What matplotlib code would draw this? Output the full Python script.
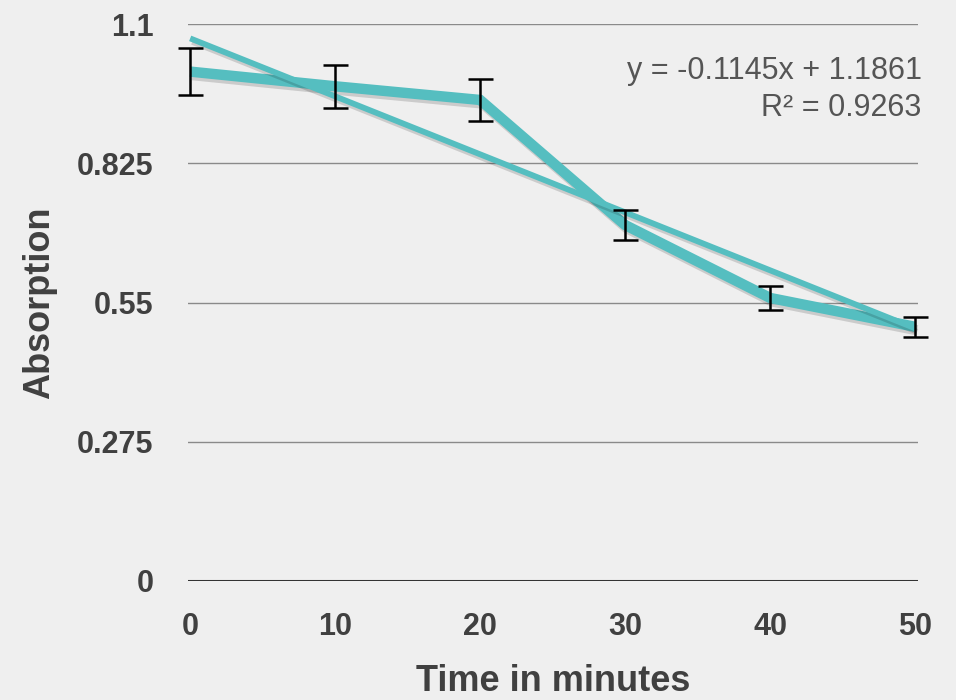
import numpy as np
import matplotlib
matplotlib.use("Agg")
import matplotlib.pyplot as plt
import matplotlib.patheffects as pe

# data
minutes = ["0", "10", "20", "30", "40", "50"]
absorption = [1.006, 0.977, 0.950, 0.703, 0.559, 0.502]
errors = [0.046, 0.042, 0.041, 0.030, 0.023, 0.020]
yticks = [0, 0.275, 0.55, 0.825, 1.1]
ytick_labels = ["0", "0.275", "0.55", "0.825", "1.1"]
slope, intercept, r2 = -0.1145, 1.1861, 0.9263

teal = "#55bec0"
bg = "#efefef"
txt = "#404040"

plt.rcParams['font.family'] = ['Liberation Sans', 'DejaVu Sans']

fig = plt.figure(figsize=(9.56, 7.0), dpi=100, facecolor=bg)
ax = fig.add_axes([188 / 956, 1 - 581 / 700, 730 / 956, 557 / 700])
ax.set_facecolor(bg)

x = np.arange(len(minutes))
shadow = [pe.SimpleLineShadow(offset=(1.5, -2.5), shadow_color="k", alpha=0.15), pe.Normal()]

# data line
ax.plot(x, absorption, color=teal, lw=7.5, solid_joinstyle="miter",
        solid_capstyle="butt", path_effects=shadow, zorder=3, clip_on=False)

# linear trend line (Excel numbers x = 1..6)
xt = x + 1
ax.plot(x, slope * xt + intercept, color=teal, lw=4.2,
        solid_capstyle="butt", path_effects=shadow, zorder=4, clip_on=False)

eb = ax.errorbar(x, absorption, yerr=errors, fmt="none", ecolor="black",
                 elinewidth=1.8, capsize=9, capthick=1.8, zorder=5)
for art in eb.lines[1] + eb.lines[2]:
    art.set_clip_on(False)

ax.set_xlim(-0.015, 5.02)
ax.set_ylim(0, 1.1)
ax.set_yticks(yticks)
ax.set_yticklabels(ytick_labels)
ax.set_xticks(x)
ax.set_xticklabels(minutes)
ax.tick_params(length=0, labelsize=22, labelcolor=txt)
ax.tick_params(axis="y", pad=25)
ax.tick_params(axis="x", pad=22)
for lab in ax.get_xticklabels() + ax.get_yticklabels():
    lab.set_fontweight("bold")

for yv in yticks[1:]:
    ax.axhline(yv, color="#8a8a8a", lw=1.0, zorder=1)
ax.axhline(0, color="#333333", lw=2.2, zorder=2)

for s in ax.spines.values():
    s.set_visible(False)

ax.set_xlabel("Time in minutes", fontsize=26, fontweight="bold", color=txt, labelpad=16)
ax.set_ylabel("Absorption", fontsize=26, fontweight="bold", color=txt, labelpad=14)

ax.text(1.005, 0.882, "y = -0.1145x + 1.1861\nR² = 0.9263", transform=ax.transAxes,
        ha="right", va="center", fontsize=22, color="#555555", linespacing=1.3)

fig.savefig("out.png", dpi=100, facecolor=bg)
